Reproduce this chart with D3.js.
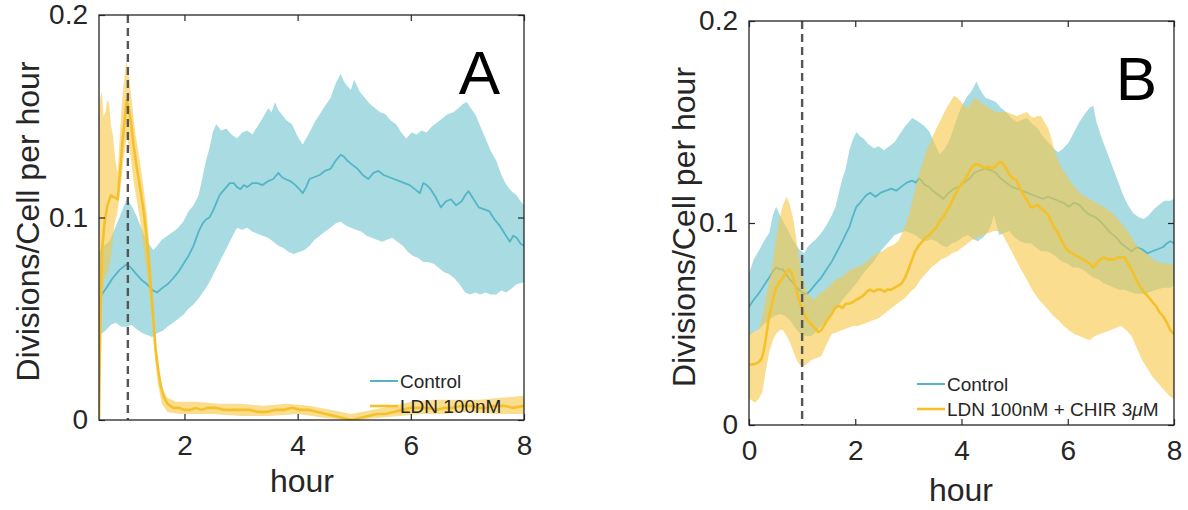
<!DOCTYPE html>
<html>
<head>
<meta charset="utf-8">
<script src="https://cdn.jsdelivr.net/npm/d3@7"></script>
<style>
  body { margin: 0; background: #fff; }
  svg { font-family: 'Liberation Sans', Arial, Helvetica, sans-serif; }
</style>
</head>
<body>
<svg id="chart" width="1188" height="510"></svg>
<script>
// ---- data: [hour, divisions/cell per hour] ----
// Panel A, control
const ctrlAMean = [[0.49,0.058],[0.54,0.062],[0.64,0.066],[0.73,0.070],[0.85,0.074],[0.98,0.077],[1.06,0.075],[1.15,0.072],[1.25,0.069],[1.34,0.067],[1.44,0.064],[1.52,0.063],[1.60,0.065],[1.70,0.067],[1.80,0.070],[1.89,0.073],[1.98,0.077],[2.07,0.081],[2.16,0.086],[2.25,0.093],[2.32,0.097],[2.38,0.099],[2.44,0.100],[2.50,0.103],[2.56,0.107],[2.62,0.111],[2.68,0.113],[2.74,0.115],[2.80,0.117],[2.87,0.117],[2.93,0.115],[2.99,0.114],[3.05,0.116],[3.11,0.115],[3.20,0.117],[3.29,0.117],[3.38,0.116],[3.48,0.118],[3.57,0.119],[3.66,0.122],[3.72,0.120],[3.78,0.119],[3.87,0.118],[3.96,0.116],[4.03,0.114],[4.09,0.112],[4.15,0.115],[4.21,0.119],[4.30,0.120],[4.39,0.121],[4.48,0.123],[4.58,0.124],[4.67,0.128],[4.76,0.131],[4.82,0.130],[4.88,0.128],[4.97,0.126],[5.06,0.124],[5.15,0.121],[5.25,0.119],[5.34,0.122],[5.43,0.123],[5.52,0.121],[5.61,0.120],[5.70,0.119],[5.80,0.118],[5.89,0.117],[5.98,0.116],[6.07,0.114],[6.16,0.112],[6.22,0.117],[6.28,0.116],[6.35,0.114],[6.44,0.110],[6.53,0.105],[6.62,0.108],[6.71,0.109],[6.80,0.106],[6.90,0.108],[6.96,0.111],[7.02,0.113],[7.11,0.109],[7.20,0.105],[7.30,0.104],[7.39,0.103],[7.48,0.099],[7.57,0.096],[7.66,0.092],[7.75,0.088],[7.81,0.091],[7.87,0.090],[7.94,0.087],[8.00,0.086]];
const ctrlAHigh = [[0.49,0.083],[0.58,0.086],[0.67,0.088],[0.76,0.094],[0.85,0.100],[0.92,0.105],[0.98,0.109],[1.06,0.106],[1.15,0.101],[1.25,0.094],[1.34,0.088],[1.45,0.084],[1.52,0.086],[1.60,0.089],[1.70,0.091],[1.80,0.093],[1.89,0.095],[1.98,0.098],[2.07,0.103],[2.16,0.106],[2.25,0.111],[2.32,0.120],[2.38,0.128],[2.44,0.134],[2.50,0.142],[2.56,0.146],[2.65,0.143],[2.74,0.144],[2.83,0.141],[2.93,0.139],[3.02,0.142],[3.11,0.143],[3.20,0.141],[3.29,0.145],[3.38,0.149],[3.48,0.154],[3.54,0.152],[3.60,0.157],[3.66,0.153],[3.72,0.151],[3.80,0.148],[3.90,0.146],[4.00,0.140],[4.09,0.136],[4.15,0.139],[4.21,0.142],[4.30,0.147],[4.39,0.151],[4.48,0.155],[4.58,0.159],[4.67,0.166],[4.76,0.171],[4.82,0.167],[4.88,0.165],[4.94,0.163],[5.00,0.168],[5.10,0.162],[5.19,0.159],[5.28,0.156],[5.37,0.154],[5.46,0.152],[5.55,0.151],[5.64,0.148],[5.74,0.146],[5.83,0.142],[5.92,0.139],[6.01,0.142],[6.10,0.141],[6.19,0.143],[6.28,0.142],[6.37,0.145],[6.47,0.147],[6.56,0.149],[6.65,0.151],[6.75,0.152],[6.84,0.154],[6.92,0.156],[6.99,0.157],[7.06,0.154],[7.14,0.151],[7.23,0.145],[7.32,0.139],[7.41,0.133],[7.51,0.128],[7.60,0.121],[7.69,0.116],[7.78,0.113],[7.87,0.111],[7.94,0.108],[8.00,0.106]];
const ctrlALow = [[0.49,0.042],[0.60,0.044],[0.70,0.047],[0.79,0.048],[0.88,0.046],[0.98,0.046],[1.06,0.047],[1.15,0.045],[1.25,0.043],[1.34,0.042],[1.43,0.041],[1.52,0.043],[1.61,0.044],[1.70,0.046],[1.80,0.048],[1.89,0.050],[1.98,0.052],[2.07,0.055],[2.16,0.057],[2.25,0.060],[2.35,0.064],[2.44,0.068],[2.53,0.073],[2.62,0.078],[2.71,0.083],[2.80,0.088],[2.87,0.092],[2.93,0.095],[3.02,0.094],[3.11,0.095],[3.20,0.093],[3.29,0.092],[3.38,0.091],[3.48,0.090],[3.57,0.088],[3.66,0.086],[3.75,0.085],[3.84,0.083],[3.93,0.082],[4.03,0.083],[4.12,0.084],[4.21,0.086],[4.30,0.089],[4.39,0.091],[4.48,0.093],[4.58,0.095],[4.67,0.097],[4.76,0.098],[4.85,0.096],[4.94,0.095],[5.03,0.094],[5.13,0.093],[5.22,0.091],[5.31,0.090],[5.40,0.089],[5.49,0.088],[5.58,0.089],[5.67,0.090],[5.76,0.088],[5.86,0.086],[5.95,0.083],[6.04,0.081],[6.13,0.080],[6.22,0.078],[6.31,0.078],[6.41,0.077],[6.50,0.075],[6.59,0.073],[6.68,0.072],[6.77,0.070],[6.86,0.067],[6.96,0.063],[7.05,0.062],[7.14,0.063],[7.23,0.062],[7.32,0.063],[7.41,0.062],[7.51,0.062],[7.60,0.064],[7.69,0.063],[7.78,0.065],[7.87,0.067],[8.00,0.068]];
// Panel A, LDN 100nM
const ldnAMean = [[0.49,0.000],[0.51,0.044],[0.54,0.083],[0.59,0.098],[0.64,0.106],[0.70,0.111],[0.76,0.110],[0.82,0.109],[0.87,0.125],[0.91,0.139],[0.95,0.150],[0.98,0.158],[1.02,0.153],[1.06,0.146],[1.10,0.136],[1.15,0.126],[1.22,0.114],[1.28,0.103],[1.34,0.088],[1.40,0.068],[1.45,0.050],[1.49,0.035],[1.54,0.024],[1.58,0.017],[1.64,0.011],[1.70,0.008],[1.80,0.006],[1.89,0.006],[2.00,0.005],[2.10,0.005],[2.20,0.006],[2.30,0.005],[2.40,0.006],[2.55,0.006],[2.70,0.005],[2.85,0.005],[3.00,0.005],[3.15,0.005],[3.30,0.004],[3.45,0.004],[3.60,0.005],[3.75,0.005],[3.90,0.006],[4.05,0.005],[4.20,0.005],[4.35,0.004],[4.50,0.003],[4.65,0.002],[4.80,0.001],[4.95,0.000],[5.10,0.001],[5.25,0.002],[5.40,0.003],[5.55,0.003],[5.70,0.004],[5.85,0.005],[6.00,0.006],[6.15,0.006],[6.30,0.006],[6.45,0.005],[6.60,0.006],[6.75,0.006],[6.90,0.007],[7.05,0.007],[7.20,0.006],[7.35,0.006],[7.50,0.007],[7.65,0.007],[7.80,0.006],[8.00,0.007]];
const ldnAHigh = [[0.49,0.150],[0.51,0.159],[0.54,0.162],[0.57,0.150],[0.60,0.152],[0.64,0.158],[0.67,0.156],[0.70,0.146],[0.74,0.140],[0.78,0.128],[0.82,0.122],[0.87,0.146],[0.91,0.162],[0.95,0.172],[0.97,0.177],[1.00,0.174],[1.03,0.167],[1.08,0.155],[1.12,0.144],[1.17,0.135],[1.22,0.126],[1.28,0.114],[1.34,0.101],[1.40,0.078],[1.46,0.052],[1.50,0.036],[1.55,0.024],[1.62,0.015],[1.70,0.011],[1.85,0.009],[2.20,0.009],[2.60,0.008],[3.00,0.008],[3.40,0.007],[3.80,0.008],[4.20,0.007],[4.60,0.005],[4.95,0.003],[5.30,0.005],[5.70,0.007],[6.00,0.009],[6.40,0.010],[6.80,0.010],[7.20,0.010],[7.60,0.011],[8.00,0.012]];
const ldnALow = [[0.49,0.000],[0.52,0.030],[0.55,0.060],[0.58,0.070],[0.63,0.072],[0.70,0.080],[0.76,0.096],[0.81,0.102],[0.86,0.112],[0.92,0.128],[0.98,0.140],[1.04,0.132],[1.10,0.118],[1.16,0.108],[1.23,0.096],[1.30,0.080],[1.36,0.068],[1.42,0.052],[1.48,0.030],[1.53,0.018],[1.60,0.008],[1.70,0.004],[1.90,0.003],[2.50,0.003],[3.00,0.002],[3.50,0.002],[4.00,0.003],[4.50,0.001],[4.95,0.000],[5.40,0.001],[5.80,0.002],[6.20,0.003],[6.60,0.003],[7.00,0.004],[7.50,0.003],[8.00,0.003]];

// Panel B, control
const ctrlBMean = [[0.00,0.0585],[0.09,0.062],[0.18,0.065],[0.28,0.069],[0.38,0.073],[0.45,0.076],[0.51,0.078],[0.58,0.077],[0.64,0.077],[0.74,0.073],[0.84,0.070],[0.94,0.067],[1.04,0.065],[1.10,0.065],[1.17,0.067],[1.26,0.070],[1.36,0.073],[1.46,0.077],[1.56,0.081],[1.66,0.086],[1.76,0.091],[1.83,0.095],[1.89,0.098],[1.95,0.103],[2.02,0.108],[2.09,0.110],[2.15,0.112],[2.22,0.114],[2.28,0.115],[2.38,0.113],[2.48,0.115],[2.58,0.116],[2.68,0.117],[2.77,0.116],[2.87,0.118],[2.97,0.120],[3.07,0.121],[3.14,0.120],[3.20,0.122],[3.25,0.121],[3.30,0.119],[3.38,0.118],[3.46,0.116],[3.56,0.114],[3.66,0.112],[3.76,0.115],[3.86,0.117],[3.96,0.118],[4.05,0.120],[4.15,0.122],[4.25,0.125],[4.35,0.126],[4.45,0.127],[4.55,0.126],[4.64,0.125],[4.74,0.122],[4.84,0.120],[4.94,0.118],[5.04,0.117],[5.14,0.116],[5.23,0.115],[5.33,0.114],[5.43,0.113],[5.53,0.112],[5.63,0.113],[5.73,0.112],[5.82,0.111],[5.92,0.110],[6.02,0.108],[6.12,0.110],[6.22,0.109],[6.32,0.106],[6.41,0.104],[6.51,0.103],[6.61,0.101],[6.71,0.098],[6.81,0.095],[6.91,0.093],[7.00,0.090],[7.10,0.088],[7.20,0.086],[7.30,0.088],[7.40,0.087],[7.50,0.085],[7.59,0.086],[7.69,0.087],[7.79,0.088],[7.87,0.090],[7.93,0.091],[8.00,0.090]];
const ctrlBHigh = [[0.00,0.075],[0.09,0.082],[0.18,0.086],[0.28,0.091],[0.38,0.095],[0.45,0.104],[0.51,0.108],[0.58,0.104],[0.64,0.101],[0.74,0.096],[0.84,0.091],[0.94,0.087],[1.04,0.085],[1.10,0.088],[1.17,0.090],[1.26,0.092],[1.36,0.095],[1.46,0.099],[1.56,0.104],[1.63,0.108],[1.70,0.116],[1.76,0.122],[1.82,0.127],[1.89,0.136],[1.95,0.141],[2.02,0.145],[2.09,0.143],[2.15,0.142],[2.25,0.139],[2.35,0.137],[2.44,0.138],[2.54,0.136],[2.64,0.138],[2.74,0.140],[2.84,0.144],[2.94,0.148],[3.01,0.150],[3.07,0.152],[3.14,0.151],[3.20,0.150],[3.30,0.148],[3.40,0.145],[3.50,0.139],[3.59,0.134],[3.69,0.137],[3.79,0.142],[3.89,0.150],[3.99,0.157],[4.09,0.162],[4.18,0.165],[4.24,0.168],[4.28,0.170],[4.35,0.166],[4.45,0.162],[4.55,0.161],[4.64,0.160],[4.74,0.157],[4.84,0.155],[4.94,0.152],[5.04,0.150],[5.14,0.151],[5.23,0.152],[5.33,0.149],[5.43,0.147],[5.53,0.143],[5.63,0.140],[5.73,0.137],[5.82,0.135],[5.92,0.137],[6.02,0.140],[6.12,0.145],[6.22,0.150],[6.32,0.154],[6.41,0.157],[6.48,0.158],[6.54,0.150],[6.64,0.142],[6.74,0.135],[6.84,0.128],[6.94,0.121],[7.04,0.114],[7.13,0.109],[7.23,0.105],[7.33,0.103],[7.43,0.102],[7.53,0.104],[7.63,0.107],[7.72,0.109],[7.82,0.111],[7.93,0.111],[8.00,0.112]];
const ctrlBLow = [[0.00,0.044],[0.09,0.046],[0.18,0.047],[0.28,0.050],[0.38,0.052],[0.48,0.054],[0.58,0.055],[0.68,0.054],[0.77,0.052],[0.87,0.048],[0.97,0.045],[1.07,0.044],[1.17,0.044],[1.26,0.046],[1.36,0.049],[1.46,0.052],[1.56,0.055],[1.66,0.058],[1.76,0.062],[1.86,0.065],[1.95,0.068],[2.05,0.071],[2.15,0.075],[2.25,0.078],[2.35,0.081],[2.45,0.085],[2.54,0.088],[2.64,0.091],[2.74,0.094],[2.84,0.095],[2.94,0.096],[3.04,0.095],[3.13,0.094],[3.23,0.092],[3.33,0.091],[3.43,0.092],[3.53,0.091],[3.62,0.089],[3.72,0.088],[3.82,0.090],[3.92,0.091],[4.02,0.093],[4.12,0.094],[4.22,0.092],[4.31,0.091],[4.41,0.093],[4.51,0.096],[4.57,0.100],[4.61,0.104],[4.66,0.099],[4.71,0.094],[4.80,0.095],[4.90,0.096],[5.00,0.093],[5.10,0.091],[5.20,0.090],[5.30,0.090],[5.40,0.088],[5.50,0.086],[5.60,0.086],[5.69,0.085],[5.79,0.083],[5.89,0.081],[5.99,0.080],[6.09,0.078],[6.19,0.078],[6.28,0.077],[6.38,0.075],[6.48,0.073],[6.58,0.072],[6.68,0.070],[6.78,0.069],[6.87,0.068],[6.97,0.067],[7.07,0.067],[7.17,0.066],[7.27,0.065],[7.37,0.065],[7.46,0.065],[7.56,0.066],[7.66,0.067],[7.80,0.068],[7.93,0.068],[8.00,0.069]];
// Panel B, LDN 100nM + CHIR 3uM
const chirBMean = [[0.00,0.030],[0.09,0.030],[0.18,0.031],[0.24,0.033],[0.28,0.037],[0.33,0.045],[0.38,0.054],[0.45,0.062],[0.51,0.068],[0.58,0.071],[0.64,0.073],[0.69,0.075],[0.74,0.077],[0.79,0.076],[0.84,0.072],[0.89,0.067],[0.94,0.062],[0.99,0.058],[1.04,0.055],[1.10,0.052],[1.17,0.050],[1.24,0.048],[1.30,0.046],[1.36,0.047],[1.43,0.050],[1.50,0.053],[1.56,0.055],[1.62,0.058],[1.69,0.059],[1.76,0.058],[1.82,0.060],[1.89,0.060],[1.96,0.061],[2.02,0.062],[2.09,0.063],[2.15,0.064],[2.22,0.066],[2.28,0.067],[2.35,0.066],[2.41,0.067],[2.48,0.067],[2.55,0.066],[2.61,0.067],[2.68,0.067],[2.74,0.068],[2.81,0.069],[2.87,0.070],[2.94,0.073],[3.00,0.077],[3.07,0.082],[3.13,0.086],[3.20,0.089],[3.27,0.091],[3.33,0.093],[3.40,0.094],[3.46,0.096],[3.53,0.098],[3.59,0.101],[3.66,0.103],[3.72,0.106],[3.79,0.109],[3.86,0.113],[3.92,0.116],[3.99,0.119],[4.05,0.121],[4.12,0.124],[4.18,0.127],[4.25,0.129],[4.31,0.129],[4.38,0.128],[4.45,0.127],[4.51,0.128],[4.58,0.127],[4.64,0.128],[4.71,0.130],[4.77,0.130],[4.84,0.127],[4.90,0.124],[4.97,0.122],[5.04,0.121],[5.10,0.117],[5.17,0.114],[5.24,0.111],[5.30,0.108],[5.36,0.108],[5.43,0.109],[5.50,0.107],[5.56,0.106],[5.63,0.104],[5.70,0.100],[5.76,0.097],[5.82,0.095],[5.89,0.091],[5.95,0.088],[6.02,0.086],[6.09,0.085],[6.15,0.084],[6.22,0.083],[6.28,0.082],[6.35,0.081],[6.41,0.080],[6.48,0.078],[6.54,0.080],[6.61,0.082],[6.68,0.083],[6.74,0.082],[6.81,0.082],[6.87,0.082],[6.94,0.083],[7.00,0.083],[7.07,0.083],[7.13,0.080],[7.20,0.077],[7.27,0.073],[7.33,0.070],[7.40,0.067],[7.46,0.065],[7.53,0.063],[7.59,0.061],[7.66,0.059],[7.72,0.056],[7.79,0.054],[7.86,0.051],[7.93,0.047],[8.00,0.045]];
const chirBHigh = [[0.00,0.045],[0.09,0.046],[0.18,0.047],[0.25,0.053],[0.31,0.062],[0.38,0.071],[0.45,0.081],[0.51,0.092],[0.58,0.103],[0.64,0.109],[0.71,0.113],[0.77,0.109],[0.84,0.101],[0.90,0.090],[0.97,0.078],[1.04,0.070],[1.10,0.065],[1.17,0.063],[1.23,0.062],[1.33,0.065],[1.43,0.067],[1.53,0.069],[1.63,0.072],[1.73,0.073],[1.82,0.075],[1.92,0.077],[2.02,0.078],[2.12,0.079],[2.22,0.081],[2.31,0.083],[2.41,0.085],[2.51,0.086],[2.61,0.088],[2.71,0.089],[2.81,0.091],[2.90,0.096],[3.00,0.103],[3.07,0.110],[3.13,0.117],[3.20,0.124],[3.27,0.130],[3.33,0.135],[3.40,0.139],[3.46,0.143],[3.53,0.147],[3.59,0.150],[3.66,0.154],[3.72,0.157],[3.79,0.160],[3.86,0.163],[3.92,0.162],[3.99,0.160],[4.05,0.158],[4.12,0.157],[4.18,0.159],[4.25,0.162],[4.31,0.161],[4.38,0.159],[4.45,0.158],[4.51,0.157],[4.58,0.156],[4.64,0.155],[4.74,0.155],[4.84,0.155],[4.94,0.154],[5.04,0.153],[5.14,0.154],[5.23,0.155],[5.30,0.153],[5.36,0.152],[5.43,0.153],[5.50,0.153],[5.56,0.150],[5.63,0.147],[5.70,0.141],[5.76,0.135],[5.82,0.131],[5.89,0.127],[5.99,0.123],[6.09,0.119],[6.19,0.116],[6.28,0.114],[6.38,0.112],[6.48,0.111],[6.58,0.109],[6.68,0.108],[6.78,0.106],[6.87,0.104],[6.97,0.101],[7.07,0.098],[7.17,0.094],[7.27,0.090],[7.36,0.087],[7.46,0.085],[7.56,0.083],[7.66,0.081],[7.79,0.080],[7.93,0.080],[8.00,0.079]];
const chirBLow = [[0.00,0.013],[0.06,0.012],[0.12,0.011],[0.18,0.013],[0.25,0.016],[0.31,0.026],[0.38,0.036],[0.45,0.042],[0.51,0.045],[0.58,0.047],[0.64,0.047],[0.71,0.044],[0.77,0.041],[0.84,0.036],[0.90,0.032],[0.95,0.030],[1.00,0.029],[1.08,0.030],[1.17,0.032],[1.26,0.033],[1.36,0.034],[1.46,0.040],[1.56,0.045],[1.66,0.046],[1.76,0.047],[1.86,0.048],[1.95,0.049],[2.05,0.049],[2.15,0.050],[2.25,0.051],[2.35,0.052],[2.45,0.053],[2.54,0.055],[2.64,0.057],[2.74,0.059],[2.84,0.061],[2.94,0.063],[3.04,0.066],[3.13,0.068],[3.23,0.072],[3.33,0.075],[3.43,0.078],[3.53,0.080],[3.62,0.082],[3.72,0.083],[3.82,0.085],[3.92,0.086],[4.02,0.088],[4.12,0.090],[4.22,0.092],[4.31,0.093],[4.41,0.094],[4.51,0.095],[4.61,0.096],[4.71,0.096],[4.78,0.094],[4.84,0.091],[4.94,0.086],[5.04,0.081],[5.14,0.076],[5.23,0.072],[5.33,0.067],[5.43,0.063],[5.53,0.060],[5.63,0.057],[5.73,0.054],[5.82,0.052],[5.92,0.049],[6.02,0.047],[6.12,0.045],[6.22,0.044],[6.32,0.043],[6.41,0.042],[6.51,0.044],[6.61,0.045],[6.71,0.046],[6.81,0.047],[6.90,0.048],[7.00,0.049],[7.10,0.047],[7.20,0.044],[7.30,0.038],[7.40,0.032],[7.50,0.028],[7.59,0.024],[7.69,0.021],[7.79,0.018],[7.86,0.016],[7.93,0.014],[8.00,0.013]];

// ---- axes / labels ----
const yTicks = [0, 0.1, 0.2];
const xTicksA = [2, 4, 6, 8];
const xTicksB = [0, 2, 4, 6, 8];
const legendA = ['Control', 'LDN 100nM'];
const legendB = ['Control', 'LDN 100nM + CHIR 3\u03BCM'];
const treatmentHour = 1;

const axisColor = '#262626';
const cyanLine = '#52b6c6';
const cyanFill = '#a9dbe3';
const yellowLine = '#f5c12a';
const yellowFill = '#f7c744';

const svg = d3.select('#chart');

const panels = [
  {
    letter: 'A', left: 99, top: 15, right: 524, bottom: 420,
    xDomain: [0.49, 8], xTicks: xTicksA, legend: legendA,
    ctrl: [ctrlAMean, ctrlAHigh, ctrlALow], drug: [ldnAMean, ldnAHigh, ldnALow],
    legendX: 370, legendY: [381, 406], letterX: 500, hourX: 302, hourY: 481, ylabX: 28
  },
  {
    letter: 'B', left: 749, top: 21, right: 1174, bottom: 425,
    xDomain: [0, 8], xTicks: xTicksB, legend: legendB,
    ctrl: [ctrlBMean, ctrlBHigh, ctrlBLow], drug: [chirBMean, chirBHigh, chirBLow],
    legendX: 917, legendY: [384, 409], letterX: 1157, hourX: 961, hourY: 490, ylabX: 684
  }
];

panels.forEach((p, i) => drawPanel(p, i));

function drawPanel(p, i) {
  const x = d3.scaleLinear().domain(p.xDomain).range([p.left, p.right]);
  const y = d3.scaleLinear().domain([0, 0.2]).range([p.bottom, p.top]);

  const line = d3.line().x(d => x(d[0])).y(d => y(d[1]));
  const band = (hi, lo) => line(hi.concat(lo.slice().reverse())) + 'Z';

  svg.append('clipPath')
    .attr('id', 'clip' + i)
    .append('rect')
    .attr('x', p.left).attr('y', p.top)
    .attr('width', p.right - p.left).attr('height', p.bottom - p.top);

  const g = svg.append('g').attr('clip-path', `url(#clip${i})`);

  //control band + mean
  g.append('path').attr('d', band(p.ctrl[1], p.ctrl[2]))
    .attr('fill', cyanFill);
  g.append('path').attr('d', line(p.ctrl[0]))
    .attr('fill', 'none').attr('stroke', cyanLine).attr('stroke-width', 1.8)
    .attr('stroke-linejoin', 'round');

  //treatment band + mean
  g.append('path').attr('d', band(p.drug[1], p.drug[2]))
    .attr('fill', yellowFill).attr('fill-opacity', 0.6);
  g.append('path').attr('d', line(p.drug[0]))
    .attr('fill', 'none').attr('stroke', yellowLine).attr('stroke-width', 2.6)
    .attr('stroke-linejoin', 'round');

  //dashed marker at treatment time
  g.append('line')
    .attr('x1', x(treatmentHour)).attr('x2', x(treatmentHour))
    .attr('y1', p.top).attr('y2', p.bottom)
    .attr('stroke', '#555').attr('stroke-width', 2.4)
    .attr('stroke-dasharray', '8,5');

  //axes, ticks inside like matlab
  const tickStyle = sel => {
    sel.select('.domain').remove();
    sel.selectAll('line').attr('stroke', axisColor).attr('stroke-width', 1.2);
    sel.selectAll('text').attr('fill', axisColor).style('font-size', '28px')
      .style('font-family', "'Liberation Sans', Arial, sans-serif");
  };

  svg.append('g').attr('transform', `translate(0,${p.bottom})`)
    .call(d3.axisBottom(x).tickValues(p.xTicks).tickFormat(d3.format('d'))
      .tickSizeInner(-6).tickSizeOuter(0).tickPadding(15))
    .call(tickStyle);
  svg.append('g').attr('transform', `translate(0,${p.top})`)
    .call(d3.axisTop(x).tickValues(p.xTicks).tickFormat('')
      .tickSizeInner(-6).tickSizeOuter(0))
    .call(tickStyle);
  svg.append('g').attr('transform', `translate(${p.left},0)`)
    .call(d3.axisLeft(y).tickValues(yTicks).tickFormat(d => d === 0 ? '0' : d3.format('.1f')(d))
      .tickSizeInner(-6).tickSizeOuter(0).tickPadding(11))
    .call(tickStyle);
  svg.append('g').attr('transform', `translate(${p.right},0)`)
    .call(d3.axisRight(y).tickValues(yTicks).tickFormat('')
      .tickSizeInner(-6).tickSizeOuter(0))
    .call(tickStyle);

  svg.append('rect')
    .attr('x', p.left).attr('y', p.top)
    .attr('width', p.right - p.left).attr('height', p.bottom - p.top)
    .attr('fill', 'none').attr('stroke', axisColor).attr('stroke-width', 1.3);

  //axis titles
  const cy = (p.top + p.bottom) / 2;
  svg.append('text')
    .attr('x', p.hourX).attr('y', p.hourY).attr('dy', '0.35em')
    .attr('text-anchor', 'middle').attr('fill', axisColor)
    .style('font-size', '32px').text('hour');
  svg.append('text')
    .attr('transform', `translate(${p.ylabX},${cy + 4}) rotate(-90)`)
    .attr('dy', '0.35em')
    .attr('text-anchor', 'middle').attr('fill', axisColor)
    .style('font-size', '32px').text('Divisions/Cell per hour');

  //panel letter
  svg.append('text')
    .attr('x', p.letterX).attr('y', p.top + 79)
    .attr('text-anchor', 'end').attr('fill', '#000')
    .style('font-size', '62px').text(p.letter);

  //legend
  const colors = [cyanLine, yellowLine];
  p.legend.forEach((name, k) => {
    const ly = p.legendY[k];
    svg.append('line')
      .attr('x1', p.legendX).attr('x2', p.legendX + 28)
      .attr('y1', ly).attr('y2', ly)
      .attr('stroke', colors[k]).attr('stroke-width', k ? 2.6 : 2);
    const t = svg.append('text')
      .attr('x', p.legendX + 30).attr('y', ly).attr('dy', '0.35em')
      .attr('fill', axisColor).style('font-size', '19px');
    if (name.includes('\u03BC')) {
      const parts = name.split('\u03BC');
      t.append('tspan').text(parts[0]);
      t.append('tspan').style('font-style', 'italic').text('\u03BC');
      t.append('tspan').text(parts[1]);
    } else {
      t.text(name);
    }
  });
}
</script>
</body>
</html>
